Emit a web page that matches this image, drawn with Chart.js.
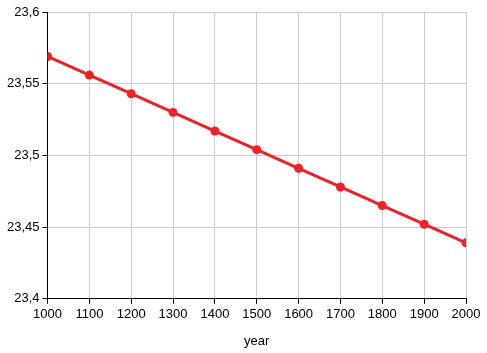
<!DOCTYPE html>
<html>
<head>
<meta charset="utf-8">
<script src="https://cdn.jsdelivr.net/npm/chart.js@4"></script>
<style>
  html, body { margin: 0; padding: 0; background: #fff; }
  #wrap { width: 487px; height: 353px; }
</style>
</head>
<body>
<div id="wrap"><canvas id="chart"></canvas></div>
<script>
const years = [1000, 1100, 1200, 1300, 1400, 1500, 1600, 1700, 1800, 1900, 2000]
const obliquity = [23.569, 23.556, 23.543, 23.530, 23.517, 23.504, 23.491, 23.478, 23.465, 23.452, 23.439]

const red = '#ec2227'
const grid = '#cccccc'
const font = { family: 'Liberation Sans, Arial, sans-serif', size: 13 }

const points = years.map((y, i) => ({ x: y, y: obliquity[i] }))

new Chart(document.getElementById('chart'), {
    type: 'line',
    data: {
        datasets: [{
            data: points,
            borderColor: red,
            backgroundColor: red,
            borderWidth: 3,
            pointRadius: 4.5,
            pointBackgroundColor: red,
            pointBorderWidth: 0,
            tension: 0,
        }]
    },
    options: {
        responsive: true,
        maintainAspectRatio: false,
        animation: false,
        layout: { padding: { top: 12, right: 21, left: 4, bottom: 4 } },
        plugins: { legend: { display: false }, tooltip: { enabled: false } },
        scales: {
            x: {
                type: 'linear',
                min: 1000,
                max: 2000,
                ticks: { stepSize: 100, color: '#000', font: font, padding: 3, maxRotation: 0,
                    callback: v => String(v) },
                grid: { color: grid, tickColor: '#000', tickLength: 5 },
                border: { color: '#000', width: 1 },
                title: { display: true, text: 'year', color: '#000', font: font, padding: { top: 8, bottom: 0 } }
            },
            y: {
                min: 23.4,
                max: 23.6,
                ticks: { stepSize: 0.05, color: '#000', font: font, padding: 3,
                    callback: v => String(+v.toFixed(2)).replace('.', ',') },
                grid: { color: grid, tickColor: '#000', tickLength: 5 },
                border: { color: '#000', width: 1 }
            }
        }
    }
})
</script>
</body>
</html>
